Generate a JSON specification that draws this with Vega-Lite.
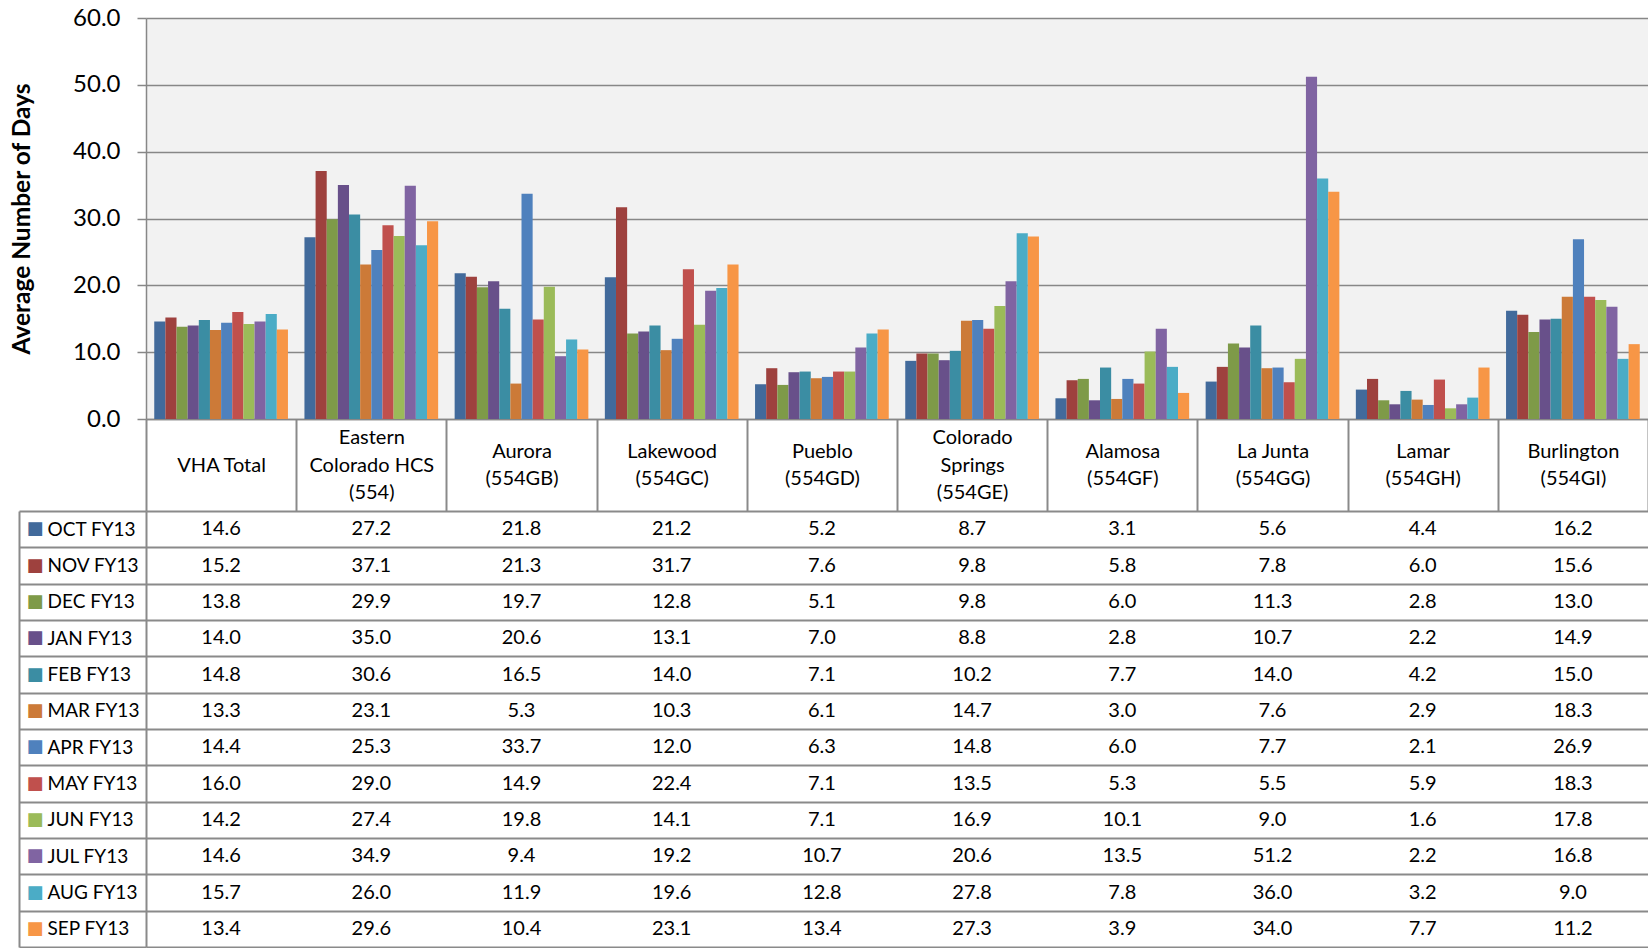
{
  "$schema": "https://vega.github.io/schema/vega-lite/v6.json",
  "padding": {"left": 9, "top": 6, "right": 0, "bottom": 0},
  "background": "#ffffff",
  "config": {"font": "Lato", "view": {"stroke": null}},
  "datasets": {
    "d": [
      {"site": "VHA Total", "month": "OCT FY13", "value": 14.6},
      {"site": "VHA Total", "month": "NOV FY13", "value": 15.2},
      {"site": "VHA Total", "month": "DEC FY13", "value": 13.8},
      {"site": "VHA Total", "month": "JAN FY13", "value": 14.0},
      {"site": "VHA Total", "month": "FEB FY13", "value": 14.8},
      {"site": "VHA Total", "month": "MAR FY13", "value": 13.3},
      {"site": "VHA Total", "month": "APR FY13", "value": 14.4},
      {"site": "VHA Total", "month": "MAY FY13", "value": 16.0},
      {"site": "VHA Total", "month": "JUN FY13", "value": 14.2},
      {"site": "VHA Total", "month": "JUL FY13", "value": 14.6},
      {"site": "VHA Total", "month": "AUG FY13", "value": 15.7},
      {"site": "VHA Total", "month": "SEP FY13", "value": 13.4},
      {"site": "Eastern Colorado HCS (554)", "month": "OCT FY13", "value": 27.2},
      {"site": "Eastern Colorado HCS (554)", "month": "NOV FY13", "value": 37.1},
      {"site": "Eastern Colorado HCS (554)", "month": "DEC FY13", "value": 29.9},
      {"site": "Eastern Colorado HCS (554)", "month": "JAN FY13", "value": 35.0},
      {"site": "Eastern Colorado HCS (554)", "month": "FEB FY13", "value": 30.6},
      {"site": "Eastern Colorado HCS (554)", "month": "MAR FY13", "value": 23.1},
      {"site": "Eastern Colorado HCS (554)", "month": "APR FY13", "value": 25.3},
      {"site": "Eastern Colorado HCS (554)", "month": "MAY FY13", "value": 29.0},
      {"site": "Eastern Colorado HCS (554)", "month": "JUN FY13", "value": 27.4},
      {"site": "Eastern Colorado HCS (554)", "month": "JUL FY13", "value": 34.9},
      {"site": "Eastern Colorado HCS (554)", "month": "AUG FY13", "value": 26.0},
      {"site": "Eastern Colorado HCS (554)", "month": "SEP FY13", "value": 29.6},
      {"site": "Aurora (554GB)", "month": "OCT FY13", "value": 21.8},
      {"site": "Aurora (554GB)", "month": "NOV FY13", "value": 21.3},
      {"site": "Aurora (554GB)", "month": "DEC FY13", "value": 19.7},
      {"site": "Aurora (554GB)", "month": "JAN FY13", "value": 20.6},
      {"site": "Aurora (554GB)", "month": "FEB FY13", "value": 16.5},
      {"site": "Aurora (554GB)", "month": "MAR FY13", "value": 5.3},
      {"site": "Aurora (554GB)", "month": "APR FY13", "value": 33.7},
      {"site": "Aurora (554GB)", "month": "MAY FY13", "value": 14.9},
      {"site": "Aurora (554GB)", "month": "JUN FY13", "value": 19.8},
      {"site": "Aurora (554GB)", "month": "JUL FY13", "value": 9.4},
      {"site": "Aurora (554GB)", "month": "AUG FY13", "value": 11.9},
      {"site": "Aurora (554GB)", "month": "SEP FY13", "value": 10.4},
      {"site": "Lakewood (554GC)", "month": "OCT FY13", "value": 21.2},
      {"site": "Lakewood (554GC)", "month": "NOV FY13", "value": 31.7},
      {"site": "Lakewood (554GC)", "month": "DEC FY13", "value": 12.8},
      {"site": "Lakewood (554GC)", "month": "JAN FY13", "value": 13.1},
      {"site": "Lakewood (554GC)", "month": "FEB FY13", "value": 14.0},
      {"site": "Lakewood (554GC)", "month": "MAR FY13", "value": 10.3},
      {"site": "Lakewood (554GC)", "month": "APR FY13", "value": 12.0},
      {"site": "Lakewood (554GC)", "month": "MAY FY13", "value": 22.4},
      {"site": "Lakewood (554GC)", "month": "JUN FY13", "value": 14.1},
      {"site": "Lakewood (554GC)", "month": "JUL FY13", "value": 19.2},
      {"site": "Lakewood (554GC)", "month": "AUG FY13", "value": 19.6},
      {"site": "Lakewood (554GC)", "month": "SEP FY13", "value": 23.1},
      {"site": "Pueblo (554GD)", "month": "OCT FY13", "value": 5.2},
      {"site": "Pueblo (554GD)", "month": "NOV FY13", "value": 7.6},
      {"site": "Pueblo (554GD)", "month": "DEC FY13", "value": 5.1},
      {"site": "Pueblo (554GD)", "month": "JAN FY13", "value": 7.0},
      {"site": "Pueblo (554GD)", "month": "FEB FY13", "value": 7.1},
      {"site": "Pueblo (554GD)", "month": "MAR FY13", "value": 6.1},
      {"site": "Pueblo (554GD)", "month": "APR FY13", "value": 6.3},
      {"site": "Pueblo (554GD)", "month": "MAY FY13", "value": 7.1},
      {"site": "Pueblo (554GD)", "month": "JUN FY13", "value": 7.1},
      {"site": "Pueblo (554GD)", "month": "JUL FY13", "value": 10.7},
      {"site": "Pueblo (554GD)", "month": "AUG FY13", "value": 12.8},
      {"site": "Pueblo (554GD)", "month": "SEP FY13", "value": 13.4},
      {"site": "Colorado Springs (554GE)", "month": "OCT FY13", "value": 8.7},
      {"site": "Colorado Springs (554GE)", "month": "NOV FY13", "value": 9.8},
      {"site": "Colorado Springs (554GE)", "month": "DEC FY13", "value": 9.8},
      {"site": "Colorado Springs (554GE)", "month": "JAN FY13", "value": 8.8},
      {"site": "Colorado Springs (554GE)", "month": "FEB FY13", "value": 10.2},
      {"site": "Colorado Springs (554GE)", "month": "MAR FY13", "value": 14.7},
      {"site": "Colorado Springs (554GE)", "month": "APR FY13", "value": 14.8},
      {"site": "Colorado Springs (554GE)", "month": "MAY FY13", "value": 13.5},
      {"site": "Colorado Springs (554GE)", "month": "JUN FY13", "value": 16.9},
      {"site": "Colorado Springs (554GE)", "month": "JUL FY13", "value": 20.6},
      {"site": "Colorado Springs (554GE)", "month": "AUG FY13", "value": 27.8},
      {"site": "Colorado Springs (554GE)", "month": "SEP FY13", "value": 27.3},
      {"site": "Alamosa (554GF)", "month": "OCT FY13", "value": 3.1},
      {"site": "Alamosa (554GF)", "month": "NOV FY13", "value": 5.8},
      {"site": "Alamosa (554GF)", "month": "DEC FY13", "value": 6.0},
      {"site": "Alamosa (554GF)", "month": "JAN FY13", "value": 2.8},
      {"site": "Alamosa (554GF)", "month": "FEB FY13", "value": 7.7},
      {"site": "Alamosa (554GF)", "month": "MAR FY13", "value": 3.0},
      {"site": "Alamosa (554GF)", "month": "APR FY13", "value": 6.0},
      {"site": "Alamosa (554GF)", "month": "MAY FY13", "value": 5.3},
      {"site": "Alamosa (554GF)", "month": "JUN FY13", "value": 10.1},
      {"site": "Alamosa (554GF)", "month": "JUL FY13", "value": 13.5},
      {"site": "Alamosa (554GF)", "month": "AUG FY13", "value": 7.8},
      {"site": "Alamosa (554GF)", "month": "SEP FY13", "value": 3.9},
      {"site": "La Junta (554GG)", "month": "OCT FY13", "value": 5.6},
      {"site": "La Junta (554GG)", "month": "NOV FY13", "value": 7.8},
      {"site": "La Junta (554GG)", "month": "DEC FY13", "value": 11.3},
      {"site": "La Junta (554GG)", "month": "JAN FY13", "value": 10.7},
      {"site": "La Junta (554GG)", "month": "FEB FY13", "value": 14.0},
      {"site": "La Junta (554GG)", "month": "MAR FY13", "value": 7.6},
      {"site": "La Junta (554GG)", "month": "APR FY13", "value": 7.7},
      {"site": "La Junta (554GG)", "month": "MAY FY13", "value": 5.5},
      {"site": "La Junta (554GG)", "month": "JUN FY13", "value": 9.0},
      {"site": "La Junta (554GG)", "month": "JUL FY13", "value": 51.2},
      {"site": "La Junta (554GG)", "month": "AUG FY13", "value": 36.0},
      {"site": "La Junta (554GG)", "month": "SEP FY13", "value": 34.0},
      {"site": "Lamar (554GH)", "month": "OCT FY13", "value": 4.4},
      {"site": "Lamar (554GH)", "month": "NOV FY13", "value": 6.0},
      {"site": "Lamar (554GH)", "month": "DEC FY13", "value": 2.8},
      {"site": "Lamar (554GH)", "month": "JAN FY13", "value": 2.2},
      {"site": "Lamar (554GH)", "month": "FEB FY13", "value": 4.2},
      {"site": "Lamar (554GH)", "month": "MAR FY13", "value": 2.9},
      {"site": "Lamar (554GH)", "month": "APR FY13", "value": 2.1},
      {"site": "Lamar (554GH)", "month": "MAY FY13", "value": 5.9},
      {"site": "Lamar (554GH)", "month": "JUN FY13", "value": 1.6},
      {"site": "Lamar (554GH)", "month": "JUL FY13", "value": 2.2},
      {"site": "Lamar (554GH)", "month": "AUG FY13", "value": 3.2},
      {"site": "Lamar (554GH)", "month": "SEP FY13", "value": 7.7},
      {"site": "Burlington (554GI)", "month": "OCT FY13", "value": 16.2},
      {"site": "Burlington (554GI)", "month": "NOV FY13", "value": 15.6},
      {"site": "Burlington (554GI)", "month": "DEC FY13", "value": 13.0},
      {"site": "Burlington (554GI)", "month": "JAN FY13", "value": 14.9},
      {"site": "Burlington (554GI)", "month": "FEB FY13", "value": 15.0},
      {"site": "Burlington (554GI)", "month": "MAR FY13", "value": 18.3},
      {"site": "Burlington (554GI)", "month": "APR FY13", "value": 26.9},
      {"site": "Burlington (554GI)", "month": "MAY FY13", "value": 18.3},
      {"site": "Burlington (554GI)", "month": "JUN FY13", "value": 17.8},
      {"site": "Burlington (554GI)", "month": "JUL FY13", "value": 16.8},
      {"site": "Burlington (554GI)", "month": "AUG FY13", "value": 9.0},
      {"site": "Burlington (554GI)", "month": "SEP FY13", "value": 11.2}
    ]
  },
  "bounds": "flush",
  "spacing": 92,
  "vconcat": [
    {
      "width": 1502,
      "height": 401,
      "data": {"name": "d"},
      "view": {"fill": "#f2f2f2", "stroke": null},
      "mark": {"type": "bar"},
      "encoding": {
        "x": {
          "field": "site", "type": "nominal",
          "sort": ["VHA Total", "Eastern Colorado HCS (554)", "Aurora (554GB)", "Lakewood (554GC)", "Pueblo (554GD)", "Colorado Springs (554GE)", "Alamosa (554GF)", "La Junta (554GG)", "Lamar (554GH)", "Burlington (554GI)"],
          "scale": {"paddingInner": 0, "paddingOuter": 0},
          "axis": {
            "title": null, "orient": "bottom", "labelAngle": 0,
            "labelExpr": "split(replace(replace(replace(datum.label, ' (', '|('), 'Eastern ', 'Eastern|'), 'Colorado Springs', 'Colorado|Springs'), '|')",
            "labelBaseline": "middle", "labelAlign": "center",
            "labelPadding": {"expr": "datum.label == 'VHA Total' ? -46 : (datum.label == 'Eastern Colorado HCS (554)' || datum.label == 'Colorado Springs (554GE)') ? -73.5 : -60"},
            "labelFontSize": 20, "labelLineHeight": 27.5, "labelColor": "#000000", "labelLimit": 0,
            "ticks": true, "tickBand": "extent", "tickSize": 92, "tickColor": "#8a8a8a", "tickWidth": 2,
            "domain": true, "domainColor": "#878787", "domainWidth": 1.5, "grid": false
          }
        },
        "xOffset": {
          "field": "month", "type": "nominal",
          "sort": ["OCT FY13", "NOV FY13", "DEC FY13", "JAN FY13", "FEB FY13", "MAR FY13", "APR FY13", "MAY FY13", "JUN FY13", "JUL FY13", "AUG FY13", "SEP FY13"],
          "scale": {"paddingInner": 0, "paddingOuter": 0.74}
        },
        "y": {
          "field": "value", "type": "quantitative",
          "scale": {"domain": [0, 60], "nice": false},
          "axis": {
            "title": "Average Number of Days", "titleFontSize": 24.5, "titleFontWeight": "bold", "titleColor": "#000000", "titlePadding": 38,
            "values": [0, 10, 20, 30, 40, 50, 60], "format": ".1f",
            "labelFontSize": 24, "labelColor": "#000000", "labelPadding": 17,
            "grid": true, "gridColor": "#878787", "gridWidth": 1.5,
            "ticks": true, "tickSize": 9, "tickColor": "#878787", "tickWidth": 1.5,
            "domain": true, "domainColor": "#878787", "domainWidth": 1.5
          }
        },
        "color": {
          "field": "month", "type": "nominal",
          "scale": {
            "domain": ["OCT FY13", "NOV FY13", "DEC FY13", "JAN FY13", "FEB FY13", "MAR FY13", "APR FY13", "MAY FY13", "JUN FY13", "JUL FY13", "AUG FY13", "SEP FY13"],
            "range": ["#426a9b", "#9e413e", "#7e9a48", "#68508a", "#3b8da3", "#cc7a38", "#4f81bd", "#c0504d", "#9bbb59", "#8064a2", "#4bacc6", "#f79646"]
          },
          "legend": null
        }
      }
    },
    {
      "width": 1502,
      "height": 436,
      "data": {"name": "d"},
      "resolve": {"axis": {"y": "independent"}},
      "layer": [
        {
          "mark": {"type": "text", "fontSize": 20, "color": "#000000", "baseline": "middle"},
          "encoding": {
            "x": {
              "field": "site", "type": "nominal",
              "sort": ["VHA Total", "Eastern Colorado HCS (554)", "Aurora (554GB)", "Lakewood (554GC)", "Pueblo (554GD)", "Colorado Springs (554GE)", "Alamosa (554GF)", "La Junta (554GG)", "Lamar (554GH)", "Burlington (554GI)"],
              "scale": {"paddingInner": 0, "paddingOuter": 0},
              "axis": {"orient": "top", "title": null, "labels": false, "ticks": false, "domain": false, "grid": true, "tickBand": "extent", "gridColor": "#8a8a8a", "gridWidth": 2}
            },
            "y": {
              "field": "month", "type": "nominal",
              "sort": ["OCT FY13", "NOV FY13", "DEC FY13", "JAN FY13", "FEB FY13", "MAR FY13", "APR FY13", "MAY FY13", "JUN FY13", "JUL FY13", "AUG FY13", "SEP FY13"],
              "scale": {"paddingInner": 0, "paddingOuter": 0},
              "axis": {
                "orient": "left", "title": null,
                "grid": true, "tickBand": "extent", "gridColor": "#8a8a8a", "gridWidth": 2,
                "ticks": true, "tickSize": 127, "tickColor": "#8a8a8a", "tickWidth": 2,
                "domain": true, "domainColor": "#8a8a8a", "domainWidth": 2,
                "labelAlign": "left", "labelBaseline": "middle", "labelPadding": -28,
                "labelFontSize": 19, "labelColor": "#000000"
              }
            },
            "text": {"field": "value", "type": "quantitative", "format": ".1f"}
          }
        },
        {
          "mark": {"type": "rect", "opacity": 0},
          "encoding": {
            "x": {
              "field": "site", "type": "nominal",
              "sort": ["VHA Total", "Eastern Colorado HCS (554)", "Aurora (554GB)", "Lakewood (554GC)", "Pueblo (554GD)", "Colorado Springs (554GE)", "Alamosa (554GF)", "La Junta (554GG)", "Lamar (554GH)", "Burlington (554GI)"],
              "axis": null
            },
            "y": {
              "field": "month", "type": "nominal",
              "sort": ["OCT FY13", "NOV FY13", "DEC FY13", "JAN FY13", "FEB FY13", "MAR FY13", "APR FY13", "MAY FY13", "JUN FY13", "JUL FY13", "AUG FY13", "SEP FY13"],
              "axis": {
                "orient": "left", "offset": 127, "title": null,
                "grid": false, "ticks": false,
                "domain": true, "domainColor": "#8a8a8a", "domainWidth": 2,
                "labelExpr": "'■'", "labelAlign": "left", "labelBaseline": "middle", "labelPadding": -7,
                "labelFont": "DejaVu Sans", "labelFontSize": 18,
                "labelColor": {"expr": "{'OCT FY13':'#426a9b','NOV FY13':'#9e413e','DEC FY13':'#7e9a48','JAN FY13':'#68508a','FEB FY13':'#3b8da3','MAR FY13':'#cc7a38','APR FY13':'#4f81bd','MAY FY13':'#c0504d','JUN FY13':'#9bbb59','JUL FY13':'#8064a2','AUG FY13':'#4bacc6','SEP FY13':'#f79646'}[datum.value]"}
              }
            }
          }
        }
      ]
    }
  ]
}
